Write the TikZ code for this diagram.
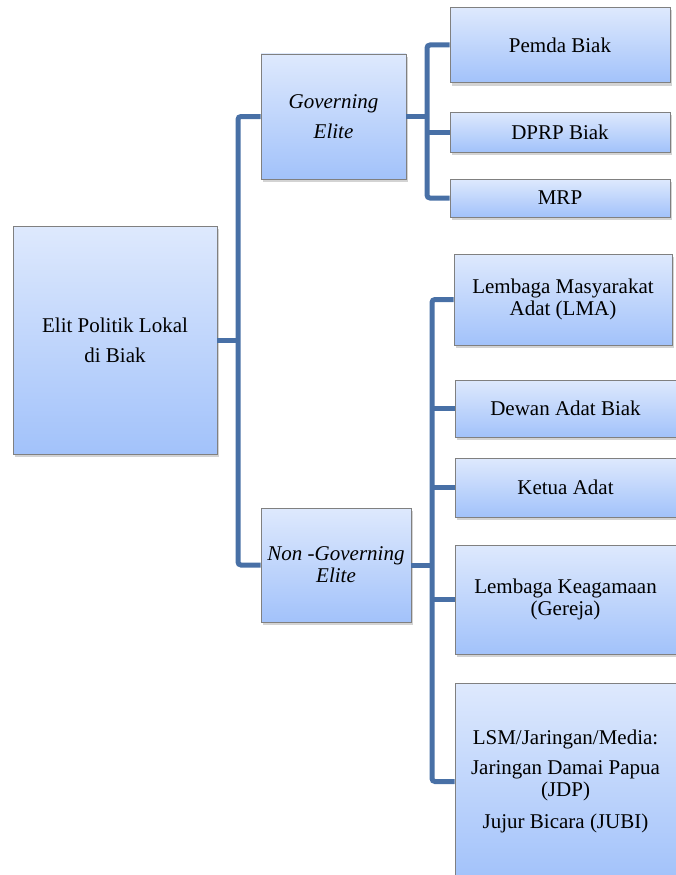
\documentclass[tikz,border=0pt]{standalone}
\usepackage{fontspec}
\setmainfont{Liberation Serif}
\usetikzlibrary{shadows}
\definecolor{boxtop}{RGB}{222,233,253}
\definecolor{boxbot}{RGB}{162,194,250}
\definecolor{boxline}{RGB}{128,128,128}
\definecolor{connc}{RGB}{72,112,166}
\tikzset{
  orgbox/.style={draw=boxline, line width=0.8pt, top color=boxtop, bottom color=boxbot,
    drop shadow={opacity=0.35, shadow xshift=2pt, shadow yshift=-3pt},
    align=center, inner sep=2pt, font=\fontsize{21}{22}\selectfont},
  wide/.style={font=\fontsize{21}{30}\selectfont},
  conn/.style={draw=connc, line width=5pt, rounded corners=3pt},
}
\begin{document}
\begin{tikzpicture}[x=1pt,y=-1pt]
\useasboundingbox (0,0) rectangle (675,875);
% connectors first
\coordinate (t1) at (238,0);
\coordinate (s1) at (427,0);
\coordinate (s2) at (432,0);
\path (115,340) node[orgbox,wide,minimum width=204pt,minimum height=228pt] (root) {Elit Politik Lokal\\di Biak};
\path (333.5,116.5) node[orgbox,wide,minimum width=145pt,minimum height=125pt] (gov) {\itshape Governing\\\itshape Elite};
\path (336,565) node[orgbox,minimum width=150pt,minimum height=114pt] (ngov) {\itshape Non -Governing\\\itshape Elite};
\path (560,45) node[orgbox,minimum width=220pt,minimum height=75pt] (pemda) {Pemda Biak};
\path (560,132) node[orgbox,minimum width=220pt,minimum height=40pt] (dprp) {DPRP Biak};
\path (560,198) node[orgbox,minimum width=220pt,minimum height=38pt] (mrp) {MRP};
\path (563,299.5) node[orgbox,minimum width=218pt,minimum height=91pt] (lma) {Lembaga Masyarakat\\Adat (LMA)};
\path (565.5,408.5) node[orgbox,minimum width=221pt,minimum height=57pt] (dewan) {Dewan Adat Biak};
\path (565.5,487.5) node[orgbox,minimum width=221pt,minimum height=59pt] (ketua) {Ketua Adat};
\path (565.5,599.5) node[orgbox,minimum width=221pt,minimum height=109pt] (keag) {Lembaga Keagamaan\\(Gereja)};
\path (565.5,781.5) node[orgbox,minimum width=221pt,minimum height=197pt] (lsm) {LSM/Jaringan/Media:\\[8pt]Jaringan Damai Papua\\(JDP)\\[10pt]Jujur Bicara (JUBI)};
% main trunk
\draw[conn] (root.east) -- (root.east -| t1);
\draw[conn] (gov.west) -- (gov.west -| t1) -- (ngov.west -| t1) -- (ngov.west);
% governing branch
\draw[conn] (gov.east) -- (gov.east -| s1);
\draw[conn] (pemda.west) -- (pemda.west -| s1) -- (mrp.west -| s1) -- (mrp.west);
\draw[conn] (s1 |- dprp.west) -- (dprp.west);
% non-governing branch
\draw[conn] (ngov.east) -- (ngov.east -| s2);
\draw[conn] (lma.west) -- (lma.west -| s2) -- (lsm.west -| s2) -- (lsm.west);
\draw[conn] (s2 |- dewan.west) -- (dewan.west);
\draw[conn] (s2 |- ketua.west) -- (ketua.west);
\draw[conn] (s2 |- keag.west) -- (keag.west);
\end{tikzpicture}
\end{document}
